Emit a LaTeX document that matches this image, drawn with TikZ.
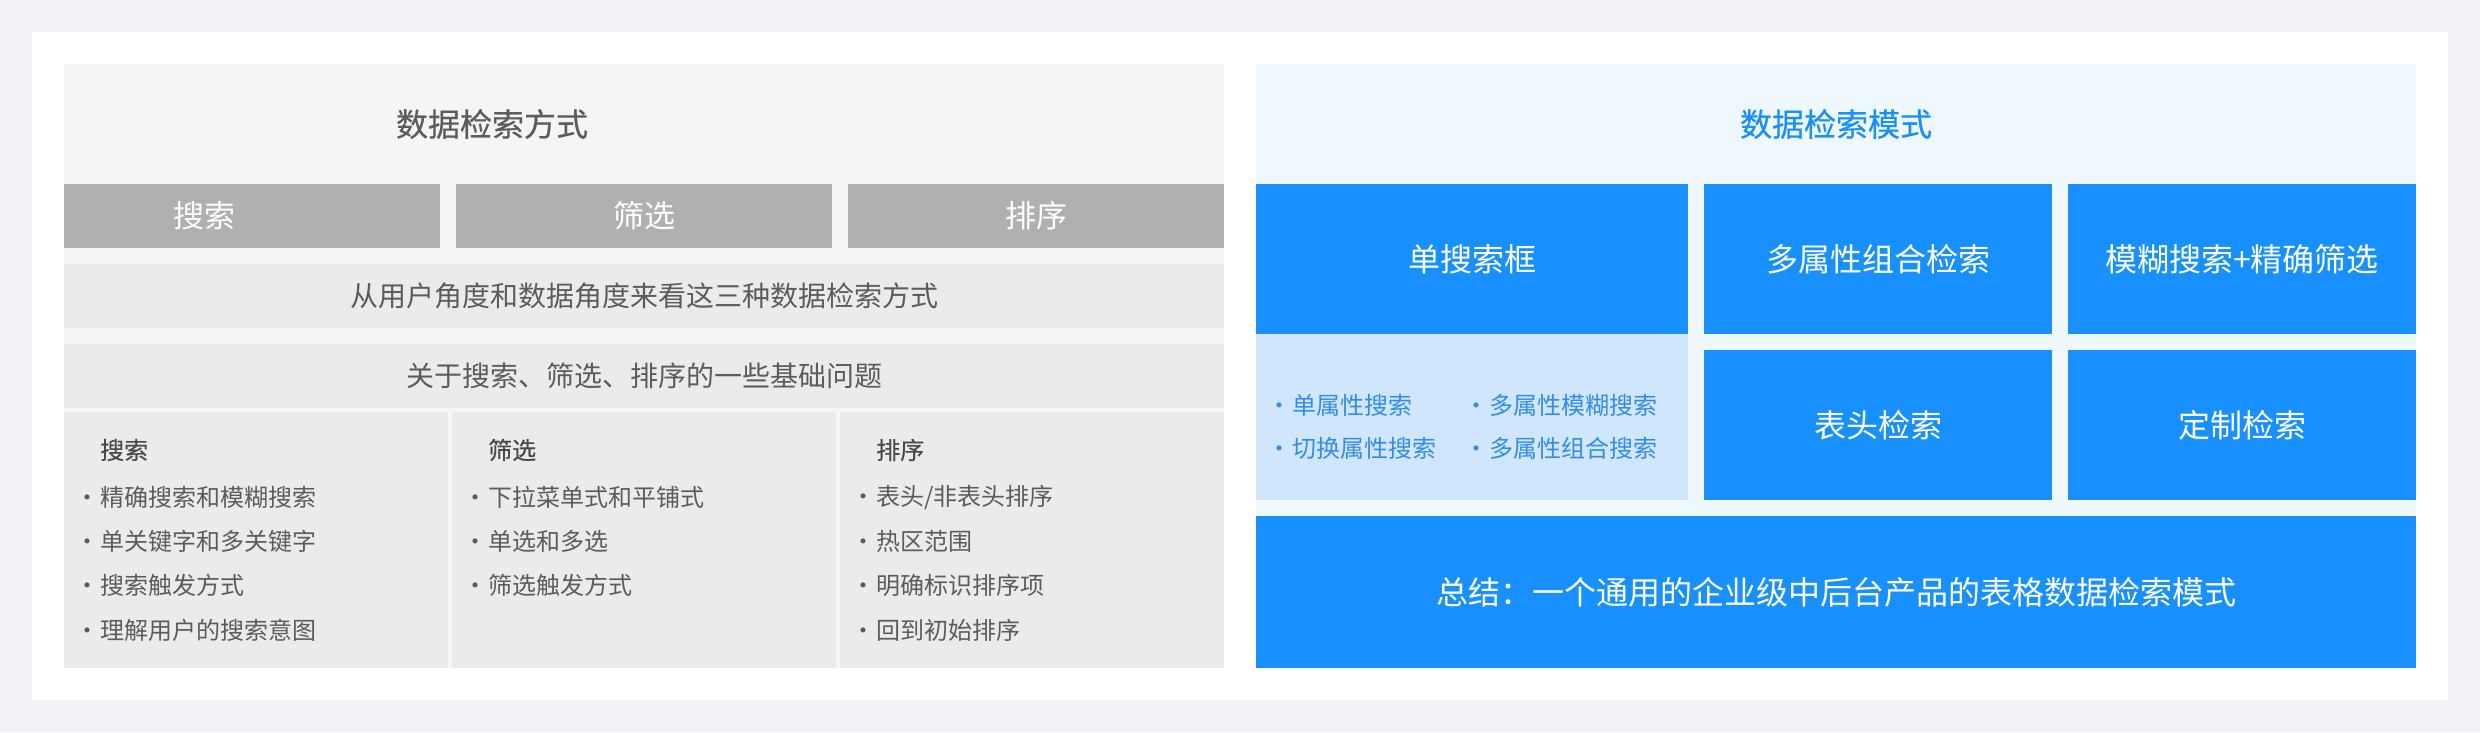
\documentclass[tikz,border=0pt]{standalone}
\usepackage{fontspec}
\setmainfont{Noto Sans CJK SC}
\newfontfamily\medfont{Noto Sans CJK SC}[FakeBold=0.5]
\definecolor{bgout}{HTML}{F0F2F5}
\definecolor{lpanel}{HTML}{F5F5F5}
\definecolor{lrow}{HTML}{EBEBEB}
\definecolor{gbtn}{HTML}{B0B0B0}
\definecolor{ltext}{HTML}{5C5C5C}
\definecolor{lhead}{HTML}{4A4A4A}
\definecolor{rpanel}{HTML}{EFF7FF}
\definecolor{blue}{HTML}{1890FF}
\definecolor{lblue}{HTML}{CFE6FC}
\definecolor{btext}{HTML}{348CE6}
\newcommand{\bdot}{\llap{\makebox[26pt][c]{·}}}
\begin{document}
\begin{tikzpicture}[x=1pt,y=-1pt,
  rect/.style={inner sep=0pt, outer sep=0pt, anchor=north west, draw=none},
  graybtn/.style={rect, fill=gbtn, text=white, minimum width=376, minimum height=64, font=\fontsize{31}{35}\selectfont},
  grayrow/.style={rect, fill=lrow, text=ltext, minimum width=1160, minimum height=64, font=\fontsize{28}{32}\selectfont},
  graycol/.style={rect, fill=lrow, minimum width=384, minimum height=256},
  bluebox/.style={rect, fill=blue, text=white, minimum height=150, font=\fontsize{32}{36}\selectfont},
  colhead/.style={inner sep=0pt, anchor=west, text=lhead, font=\fontsize{24}{28}\selectfont\medfont},
  item/.style={inner sep=0pt, anchor=west, text=ltext, font=\fontsize{24}{28}\selectfont},
  bitem/.style={inner sep=0pt, anchor=west, text=btext, font=\fontsize{24}{28}\selectfont},
  title/.style={inner sep=0pt, font=\fontsize{32}{36}\selectfont\medfont},
  plain/.style={inner sep=0pt}
]
\fill[bgout] (0,0) rectangle (2480,732);
\useasboundingbox (0,0) rectangle (2480,732);
\fill[white] (32,32) rectangle (2448,700);

% ---------- left panel ----------
\node[rect, fill=lpanel, minimum width=1160, minimum height=604] (lp) at (64,64) {};
\node[title, text=ltext] (ltitle) at (492,124) {数据检索方式};
\node[graybtn] (b1) at (64,184) {};
\node[plain, text=white, font=\fontsize{31}{35}\selectfont] (b1t) at (204,216) {搜索};
\node[graybtn] (b2) at (456,184) {筛选};
\node[graybtn] (b3) at (848,184) {排序};
\node[grayrow] (r1) at (64,264) {从用户角度和数据角度来看这三种数据检索方式};
\node[grayrow] (r2) at (64,344) {关于搜索、筛选、排序的一些基础问题};
\node[graycol] (c1) at (64,412) {};
\node[graycol] (c2) at (452,412) {};
\node[graycol] (c3) at (840,412) {};

\node[colhead] (h1) at (100,450) {搜索};
\node[colhead] (h2) at (488,450) {筛选};
\node[colhead] (h3) at (876,450) {排序};

\foreach \t [count=\i] in {精确搜索和模糊搜索,单关键字和多关键字,搜索触发方式,理解用户的搜索意图}
  \node[item] (sa\i) at (100,{497+44.3*(\i-1)}) {\bdot{}\t};
\foreach \t [count=\i] in {下拉菜单式和平铺式,单选和多选,筛选触发方式}
  \node[item] (sb\i) at (488,{497+44.3*(\i-1)}) {\bdot{}\t};
\foreach \t [count=\i] in {表头/非表头排序,热区范围,明确标识排序项,回到初始排序}
  \node[item] (sc\i) at (876,{497+44.3*(\i-1)}) {\bdot{}\t};

% ---------- right panel ----------
\node[rect, fill=rpanel, minimum width=1160, minimum height=604] (rp) at (1256,64) {};
\node[title, text=blue] (rtitle) at (1836,124) {数据检索模式};
\node[bluebox, minimum width=432] (m1) at (1256,184) {单搜索框};
\node[bluebox, minimum width=348] (m2) at (1704,184) {多属性组合检索};
\node[bluebox, minimum width=348] (m3) at (2068,184) {模糊搜索+精确筛选};
\node[rect, fill=lblue, minimum width=432, minimum height=166] (lb) at (1256,334) {};
\node[bluebox, minimum width=348] (m4) at (1704,350) {表头检索};
\node[bluebox, minimum width=348] (m5) at (2068,350) {定制检索};
\node[bluebox, minimum width=1160, minimum height=152] (sum) at (1256,516) {总结：一个通用的企业级中后台产品的表格数据检索模式};

\node[bitem] (p1) at (1292,405) {\bdot{}单属性搜索};
\node[bitem] (p2) at (1292,448) {\bdot{}切换属性搜索};
\node[bitem] (p3) at (1489,405) {\bdot{}多属性模糊搜索};
\node[bitem] (p4) at (1489,448) {\bdot{}多属性组合搜索};
\end{tikzpicture}
\end{document}
